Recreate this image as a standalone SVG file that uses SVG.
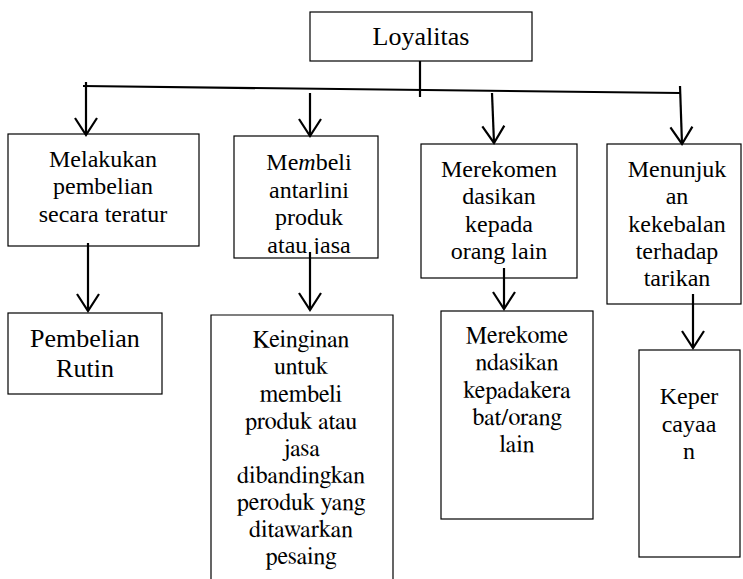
<svg xmlns="http://www.w3.org/2000/svg" width="743" height="579" viewBox="0 0 743 579">
<style>
  .box { fill: #ffffff; stroke: #000000; stroke-width: 1.2; }
  .t { font-size: 24px; fill: #000000; text-anchor: middle; }
  .tl { font-size: 26px; fill: #000000; text-anchor: middle; }
  .ln { fill: none; stroke: #000000; stroke-width: 2.2; }
  .ar { fill: none; stroke: #000000; stroke-width: 2.2; marker-end: url(#arr); }
</style>
<defs>
  <marker id="arr" markerUnits="userSpaceOnUse" markerWidth="40" markerHeight="40" viewBox="-20 -20 40 40" refX="0" refY="0" orient="auto" overflow="visible">
    <path d="M -17 -11 L 0 0 L -17 11" fill="none" stroke="#000000" stroke-width="2.2"/>
  </marker>
  <clipPath id="clip2"><rect x="234" y="136" width="144" height="118"/></clipPath>
</defs>
<rect width="743" height="579" fill="#ffffff"/>

<g id="node-loyalitas" font-family="serif">
  <rect class="box" x="310" y="12" width="222" height="49"/>
  <text class="tl" x="421" y="45">Loyalitas</text>
</g>

<g id="node-melakukan" font-family="'Liberation Serif'">
  <rect class="box" x="8" y="134" width="191" height="112"/>
  <text class="t" x="103" y="167">Melakukan</text>
  <text class="t" x="103" y="194">pembelian</text>
  <text class="t" x="103" y="222">secara teratur</text>
</g>

<g id="node-membeli" font-family="'Times New Roman'">
  <rect class="box" x="234" y="136" width="144" height="122"/>
  <g clip-path="url(#clip2)" font-family="'Times New Roman'">
    <text class="t" x="309" y="170">Me<tspan font-style="italic">m</tspan>beli</text>
    <text class="t" x="309" y="198">antarlini</text>
    <text class="t" x="309" y="225">produk</text>
    <text class="t" x="309" y="253">atau jasa</text>
  </g>
</g>

<g id="node-merekomen" font-family="Tinos">
  <rect class="box" x="421" y="144" width="156" height="134"/>
  <text class="t" x="499" y="177">Merekomen</text>
  <text class="t" x="499" y="204">dasikan</text>
  <text class="t" x="499" y="232">kepada</text>
  <text class="t" x="499" y="259">orang lain</text>
</g>

<g id="node-menunjuk" font-family="Tinos">
  <rect class="box" x="607" y="144" width="134" height="160"/>
  <text class="t" x="677" y="177">Menunjuk</text>
  <text class="t" x="677" y="204">an</text>
  <text class="t" x="677" y="232">kekebalan</text>
  <text class="t" x="677" y="259">terhadap</text>
  <text class="t" x="677" y="286">tarikan</text>
</g>

<g id="node-pembelian-rutin" font-family="'Times New Roman'">
  <rect class="box" x="8" y="313" width="154" height="81"/>
  <text class="tl" x="85" y="347">Pembelian</text>
  <text class="tl" x="85" y="377">Rutin</text>
</g>

<g id="node-keinginan" font-family="FreeSerif">
  <path class="box" d="M 211 590 L 211 315 L 393 315 L 393 590"/>
  <text class="t" x="301" y="347">Keinginan</text>
  <text class="t" x="301" y="374">untuk</text>
  <text class="t" x="301" y="402">membeli</text>
  <text class="t" x="301" y="429">produk atau</text>
  <text class="t" x="301" y="456">jasa</text>
  <text class="t" x="301" y="483">dibandingkan</text>
  <text class="t" x="301" y="510">peroduk yang</text>
  <text class="t" x="301" y="537">ditawarkan</text>
  <text class="t" x="301" y="564">pesaing</text>
</g>

<g id="node-merekome-kerabat" font-family="FreeSerif">
  <rect class="box" x="441" y="311" width="152" height="208"/>
  <text class="t" x="517" y="343">Merekome</text>
  <text class="t" x="517" y="370">ndasikan</text>
  <text class="t" x="517" y="398">kepadakera</text>
  <text class="t" x="517" y="425">bat/orang</text>
  <text class="t" x="517" y="452">lain</text>
</g>

<g id="node-kepercayaan" font-family="serif">
  <rect class="box" x="639" y="350" width="101" height="207"/>
  <text class="t" x="689" y="404">Keper</text>
  <text class="t" x="689" y="432">cayaa</text>
  <text class="t" x="689" y="459">n</text>
</g>

<g id="connectors">
  <line class="ln" x1="420" y1="61" x2="420" y2="97"/>
  <line class="ln" x1="83" y1="86" x2="680" y2="93"/>
  <line class="ar" x1="86" y1="82" x2="86" y2="135"/>
  <line class="ar" x1="310" y1="93" x2="310" y2="136"/>
  <line class="ar" x1="492" y1="93" x2="494" y2="143"/>
  <line class="ar" x1="680" y1="86" x2="682" y2="144"/>
  <line class="ar" x1="88" y1="243" x2="88" y2="311"/>
  <line class="ar" x1="310" y1="252" x2="310" y2="310"/>
  <line class="ar" x1="504" y1="268" x2="504" y2="309"/>
  <line class="ar" x1="693" y1="294" x2="693" y2="348"/>
</g>
</svg>
